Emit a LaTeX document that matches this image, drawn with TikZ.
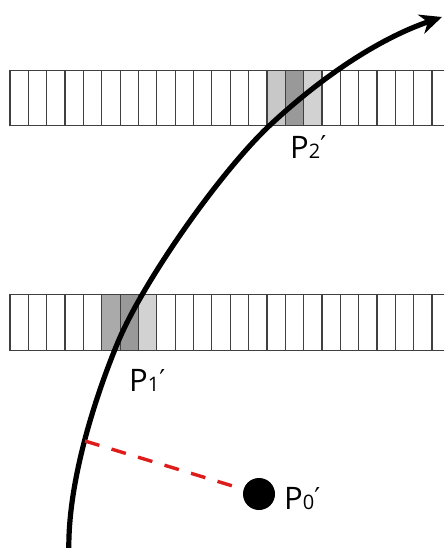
\documentclass[tikz,border=0pt]{standalone}
\usepackage{fontspec}
\setmainfont{Open Sans}
\newfontfamily\djvfont{DejaVu Sans}
\usetikzlibrary{arrows.meta}
\definecolor{lightA}{HTML}{C8C8C8}
\definecolor{lightB}{HTML}{D2D2D2}
\definecolor{midA}{HTML}{AAAAAA}
\definecolor{darkA}{HTML}{999999}
\definecolor{dashred}{RGB}{222,28,28}
\newcommand\plabel[1]{P{\fontsize{20}{20}\selectfont #1}{\djvfont\fontsize{26}{26}\selectfont\raisebox{3pt}{′}}}
\begin{document}
\begin{tikzpicture}[x=1pt,y=-1pt,
  cellline/.style={draw=black!75,line width=1.2pt},
  bigcurve/.style={line width=5.2pt,-{Stealth[length=22pt,width=20pt,inset=7pt]}},
  reddash/.style={draw=dashred,line width=3.4pt,dash pattern=on 15pt off 12.7pt},
  dotnode/.style={circle,fill=black,minimum size=32pt,inner sep=0pt},
  lbl/.style={anchor=base west,inner sep=0pt,font=\fontsize{31}{31}\selectfont}]
\useasboundingbox (0,0) rectangle (444,548);
\clip (0,0) rectangle (444,548);
% top strip
\fill[lightA] ({10+14*18.35},70.5) rectangle ++(18.35,55);
\fill[darkA]  ({10+15*18.35},70.5) rectangle ++(18.35,55);
\fill[lightB] ({10+16*18.35},70.5) rectangle ++(18.35,55);
\foreach \k in {0,...,24} \draw[cellline] ({10+\k*18.35},70.5) rectangle ++(18.35,55);
% bottom strip
\fill[midA]   ({10+5*18.35},294.5) rectangle ++(18.35,56);
\fill[darkA]  ({10+6*18.35},294.5) rectangle ++(18.35,56);
\fill[lightB] ({10+7*18.35},294.5) rectangle ++(18.35,56);
\foreach \k in {0,...,24} \draw[cellline] ({10+\k*18.35},294.5) rectangle ++(18.35,56);
% curve
\coordinate (c0) at (69,556);
\coordinate (c1) at (118,342);
\coordinate (c2) at (268,127);
\coordinate (c3) at (442,17);
\draw[bigcurve] (c0) .. controls (66,480) and (100,385) .. (c1)
  .. controls (143,282) and (218,175) .. (c2)
  .. controls (320,78) and (378,39) .. (c3);
% dashed distance
\coordinate (foot) at (85,441);
\node[dotnode] (p0) at (259,494) {};
\draw[reddash] (foot) -- (p0);
% labels
\node[lbl] (l2) at (290,158) {\plabel{2}};
\node[lbl] (l1) at (129,391) {\plabel{1}};
\node[lbl] (l0) at (284,509) {\plabel{0}};
\end{tikzpicture}
\end{document}
